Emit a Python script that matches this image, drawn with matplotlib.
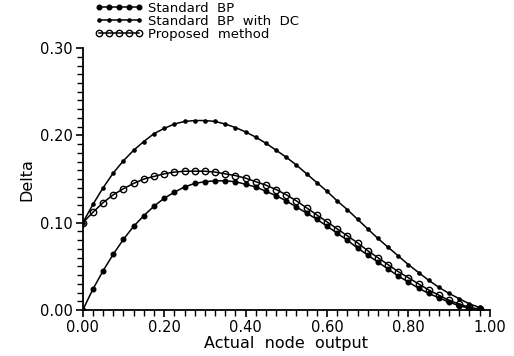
import matplotlib
matplotlib.use('Agg')
import matplotlib.pyplot as plt
from matplotlib.ticker import MultipleLocator


# actual node output, sampled every 0.025
nodeOut = [0.000, 0.025, 0.050, 0.075, 0.100, 0.125, 0.150, 0.175, 0.200, 0.225,
           0.250, 0.275, 0.300, 0.325, 0.350, 0.375, 0.400, 0.425, 0.450, 0.475,
           0.500, 0.525, 0.550, 0.575, 0.600, 0.625, 0.650, 0.675, 0.700, 0.725,
           0.750, 0.775, 0.800, 0.825, 0.850, 0.875, 0.900, 0.925, 0.950, 0.975]

# standard BP
stdBP = [0.000, 0.024, 0.045, 0.064, 0.081, 0.096, 0.108, 0.119, 0.128, 0.135,
         0.141, 0.145, 0.147, 0.148, 0.148, 0.147, 0.144, 0.141, 0.136, 0.131,
         0.125, 0.118, 0.111, 0.104, 0.096, 0.088, 0.080, 0.071, 0.063, 0.055,
         0.047, 0.039, 0.032, 0.025, 0.019, 0.014, 0.009, 0.005, 0.002, 0.001]

# standard BP with DC
dcBP = [0.100, 0.121, 0.140, 0.157, 0.171, 0.183, 0.193, 0.202, 0.208, 0.213,
        0.216, 0.217, 0.217, 0.216, 0.213, 0.209, 0.204, 0.198, 0.191, 0.183,
        0.175, 0.166, 0.156, 0.146, 0.136, 0.125, 0.115, 0.104, 0.093, 0.082,
        0.072, 0.062, 0.052, 0.043, 0.034, 0.026, 0.019, 0.013, 0.007, 0.003]

# proposed method
propBP = [0.100, 0.112, 0.123, 0.132, 0.139, 0.145, 0.150, 0.153, 0.156, 0.158,
          0.159, 0.159, 0.159, 0.158, 0.156, 0.154, 0.151, 0.147, 0.143, 0.138,
          0.132, 0.125, 0.117, 0.109, 0.101, 0.093, 0.085, 0.077, 0.068, 0.060,
          0.052, 0.044, 0.037, 0.030, 0.023, 0.017, 0.011, 0.007, 0.003, 0.001]

labels = ['Standard  BP', 'Standard  BP  with  DC', 'Proposed  method']


fig = plt.figure(figsize=(5.14, 3.56), dpi=100)
ax = fig.add_axes([0.161, 0.129, 0.792, 0.736])

ax.plot(nodeOut, stdBP, color='black', lw=1.1, marker='o', ms=3.3,
        mfc='black', mec='black', label=labels[0])
ax.plot(nodeOut, dcBP, color='black', lw=1.1, marker='o', ms=2.3,
        mfc='black', mec='black', label=labels[1])
ax.plot(nodeOut, propBP, color='black', lw=1.1, marker='o', ms=4.6,
        mfc='none', mec='black', mew=1.0, label=labels[2])

ax.set_xlim(0, 1)
ax.set_ylim(0, 0.30)
ax.xaxis.set_major_locator(MultipleLocator(0.2))
ax.xaxis.set_minor_locator(MultipleLocator(0.025))
ax.yaxis.set_major_locator(MultipleLocator(0.1))
ax.yaxis.set_minor_locator(MultipleLocator(0.01))
ax.xaxis.set_major_formatter(lambda v, p: '%.2f' % v)
ax.yaxis.set_major_formatter(lambda v, p: '%.2f' % v)

ax.spines['top'].set_visible(False)
ax.spines['right'].set_visible(False)
ax.spines['left'].set_linewidth(1.3)
ax.spines['bottom'].set_linewidth(1.3)
ax.tick_params(which='major', direction='out', length=5, width=1.2,
               labelsize=10.5, pad=2)
ax.tick_params(which='minor', direction='out', length=4, width=1.0)

ax.set_xlabel('Actual  node  output', fontsize=11.5, labelpad=1)
ax.set_ylabel('Delta', fontsize=11.5, labelpad=4)

fig.legend(loc='upper left', bbox_to_anchor=(0.175, 1.01), frameon=False,
           numpoints=5, handlelength=3.6, handletextpad=0.4,
           labelspacing=0.0, fontsize=9.5, borderaxespad=0)

fig.savefig('out.png', dpi=100)
